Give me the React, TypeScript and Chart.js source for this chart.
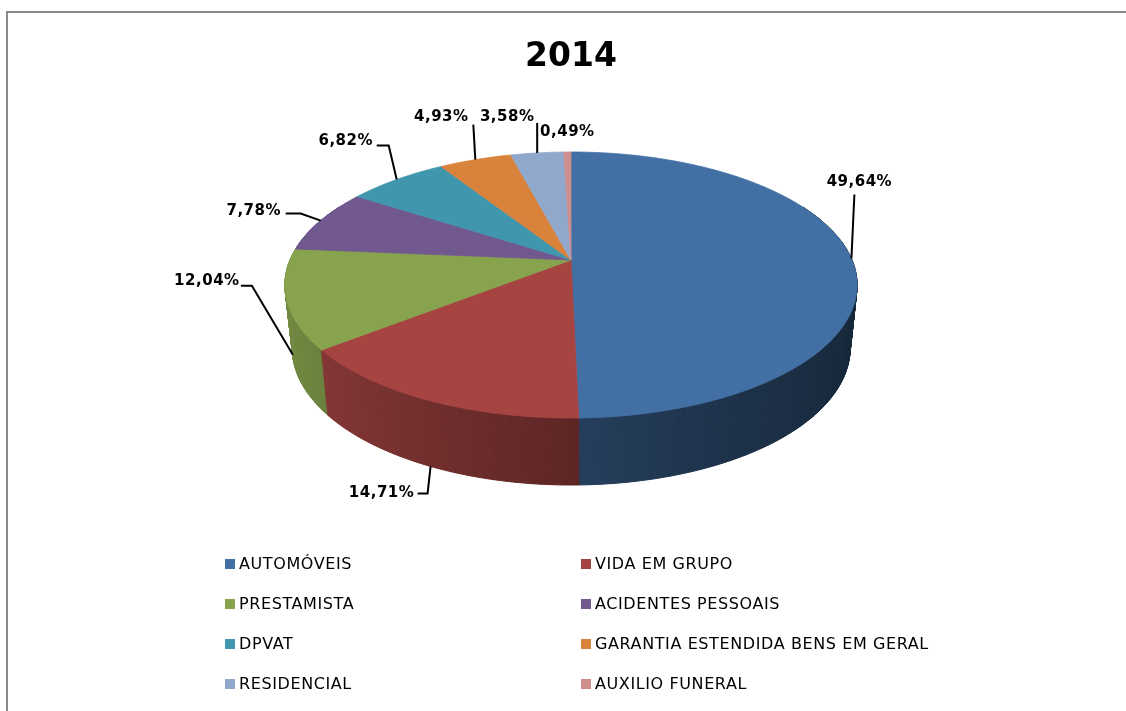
import React, { useEffect, useRef } from 'react';
import { Chart, registerables } from 'chart.js';

Chart.register(...registerables);

// ---------------- data ----------------
const TITLE = '2014';
const categories = [
  'AUTOMÓVEIS',
  'VIDA EM GRUPO',
  'PRESTAMISTA',
  'ACIDENTES PESSOAIS',
  'DPVAT',
  'GARANTIA ESTENDIDA BENS EM GERAL',
  'RESIDENCIAL',
  'AUXILIO FUNERAL',
];
const shares = [49.64, 14.71, 12.04, 7.78, 6.82, 4.93, 3.58, 0.49];

// ---------------- styles ----------------
const sliceColors = ['#4270A5', '#A64442', '#87A34E', '#71588F', '#3F96AD', '#D9823B', '#91A8CD', '#CF8F8E'];
const FONT = "'DejaVu Sans', 'Liberation Sans', sans-serif";

// perspective of the tilted pie (relative to the arc's outer radius)
const PERSP = 0.188;
const SCALE_X = 1.5406;
const SCALE_Y = 0.7034;
const DEPTH0 = 0.34;
const DEPTH1 = 0.0274;
const SHRINK = 0.025;
const VP_DX = 0.038;

// label placement: h = position along the side wall (0 top rim, 1 bottom rim),
// t = text centre offset from the anchor, p = leader line bends
const labelLayout = [
  { h: 0, t: [8, -76], p: [[3, -64]] },
  { h: 1, t: [-49, 27], p: [[-3, 27], [-13, 27]] },
  { h: 0.88, t: [-86, -74], p: [[-41, -69], [-52, -69]] },
  { h: 0, t: [-67, -9], p: [[-20, -7], [-35, -7]] },
  { h: 0, t: [-51, -38], p: [[-8, -34], [-20, -34]] },
  { h: 0, t: [-34, -43], p: [[-2, -35]] },
  { h: 0, t: [-30, -36], p: [[0, -30]] },
  { h: 0, t: [0, -20], p: [] },
];

function hexToRgb(h: string) {
  const n = parseInt(h.slice(1), 16);
  return [(n >> 16) & 255, (n >> 8) & 255, n & 255];
}
function shade(h: string, f: number) {
  const [r, g, b] = hexToRgb(h);
  return `rgb(${Math.round(r * f)},${Math.round(g * f)},${Math.round(b * f)})`;
}

function makeProj(cx: number, cy: number, R: number) {
  const B = R * SCALE_X;
  const A = R * SCALE_Y;
  const vx = cx + R * VP_DX;
  return (theta: number, h: number) => {
    const u = Math.cos(theta);
    const v = Math.sin(theta);
    const s = 1 / (1 - PERSP * v);
    let x = cx + B * u * s;
    let y = cy + A * v * s;
    if (h) {
      x = vx + (x - vx) * (1 - SHRINK * h);
      y = y + h * R * (DEPTH0 + DEPTH1 * v);
    }
    return [x, y];
  };
}

function getArcs(chart: any) {
  const meta = chart.getDatasetMeta(0);
  return meta.data as any[];
}

function drawLabels(chart: any) {
  const arcs = getArcs(chart);
  if (!arcs.length) return;
  const ctx = chart.ctx;
  const { x: cx, y: cy, outerRadius: R } = arcs[0];
  const proj = makeProj(cx, cy, R);
  ctx.save();
  ctx.font = `bold 15px ${FONT}`;
  (ctx as any).letterSpacing = '0.5px';
  ctx.textAlign = 'center';
  ctx.textBaseline = 'middle';
  ctx.fillStyle = '#000';
  ctx.strokeStyle = '#000';
  ctx.lineWidth = 2;
  arcs.forEach((arc: any, i: number) => {
    const mid = (arc.startAngle + arc.endAngle) / 2;
    const L = labelLayout[i];
    const [ax, ay] = proj(mid, L.h);
    if (L.p.length) {
      ctx.beginPath();
      ctx.moveTo(ax, ay);
      for (const [dx, dy] of L.p) ctx.lineTo(ax + dx, ay + dy);
      ctx.stroke();
    }
    const txt = shares[i].toFixed(2).replace('.', ',') + '%';
    ctx.fillText(txt, ax + L.t[0], ay + L.t[1]);
  });
  ctx.restore();
}

function drawLegend(chart: any) {
  const ctx = chart.ctx;
  ctx.save();
  ctx.font = `16px ${FONT}`;
  (ctx as any).letterSpacing = '0.6px';
  ctx.textAlign = 'left';
  ctx.textBaseline = 'middle';
  const colX = [225, 581];
  categories.forEach((name, i) => {
    const col = i % 2;
    const row = Math.floor(i / 2);
    const x = colX[col];
    const y = 564 + row * 40;
    ctx.fillStyle = sliceColors[i];
    ctx.fillRect(x, y - 5, 10, 10);
    ctx.fillStyle = '#000';
    ctx.fillText(name, x + 14, y + 1);
  });
  ctx.restore();
}

const pie3dPlugin = {
  id: 'pie3d',
  beforeDraw(chart: any) {
    const ctx = chart.ctx;
    ctx.save();
    ctx.fillStyle = '#ffffff';
    ctx.fillRect(0, 0, chart.width, chart.height);
    ctx.strokeStyle = '#8a8a8a';
    ctx.lineWidth = 2;
    ctx.beginPath();
    ctx.moveTo(chart.width, 12);
    ctx.lineTo(7, 12);
    ctx.lineTo(7, chart.height);
    ctx.stroke();
    ctx.restore();
  },
  beforeDatasetsDraw(chart: any) {
    const arcs = getArcs(chart);
    if (!arcs.length) return false;
    const ctx = chart.ctx;
    const { x: cx, y: cy, outerRadius: R } = arcs[0];
    const proj = makeProj(cx, cy, R);

    // side walls
    const quads: any[] = [];
    arcs.forEach((arc: any, i: number) => {
      const a0 = arc.startAngle;
      const a1 = arc.endAngle;
      const n = Math.max(1, Math.ceil((a1 - a0) / (Math.PI / 360)));
      for (let j = 0; j < n; j++) {
        const t0 = a0 + ((a1 - a0) * j) / n;
        const t1 = a0 + ((a1 - a0) * (j + 1)) / n;
        const tm = (t0 + t1) / 2;
        quads.push({ t0, t1, tm, v: Math.sin(tm), i });
      }
    });
    quads.sort((a, b) => a.v - b.v);
    ctx.save();
    ctx.lineWidth = 1;
    ctx.lineJoin = 'round';
    for (const q of quads) {
      if (q.v < -0.45) continue;
      const c = (1 - Math.cos(q.tm)) / 2;
      const f = 0.36 + 0.5 * Math.pow(c, 1.3);
      const col = shade(sliceColors[q.i], f);
      const p0 = proj(q.t0, 0);
      const p1 = proj(q.t1, 0);
      const p2 = proj(q.t1, 1);
      const p3 = proj(q.t0, 1);
      ctx.beginPath();
      ctx.moveTo(p0[0], p0[1]);
      ctx.lineTo(p1[0], p1[1]);
      ctx.lineTo(p2[0], p2[1]);
      ctx.lineTo(p3[0], p3[1]);
      ctx.closePath();
      ctx.fillStyle = col;
      ctx.strokeStyle = col;
      ctx.fill();
      ctx.stroke();
    }

    // top faces
    arcs.forEach((arc: any, i: number) => {
      const a0 = arc.startAngle;
      const a1 = arc.endAngle;
      const n = Math.max(2, Math.ceil((a1 - a0) / (Math.PI / 360)));
      ctx.beginPath();
      ctx.moveTo(cx, cy);
      for (let j = 0; j <= n; j++) {
        const p = proj(a0 + ((a1 - a0) * j) / n, 0);
        ctx.lineTo(p[0], p[1]);
      }
      ctx.closePath();
      ctx.fillStyle = sliceColors[i];
      ctx.strokeStyle = sliceColors[i];
      ctx.lineWidth = 0.8;
      ctx.fill();
      ctx.stroke();
    });
    ctx.restore();
    return false;
  },
  afterDraw(chart: any) {
    drawLabels(chart);
    drawLegend(chart);
  },
};

export default function App() {
  const ref = useRef<HTMLCanvasElement | null>(null);
  useEffect(() => {
    if (!ref.current) return;
    const chart = new Chart(ref.current, {
      type: 'pie',
      data: {
        labels: categories,
        datasets: [{ data: shares, backgroundColor: sliceColors, borderWidth: 0 }],
      },
      options: {
        animation: false,
        responsive: false,
        devicePixelRatio: 1,
        layout: { padding: { left: 16, right: 0, top: 0, bottom: 268.6 } },
        plugins: {
          legend: { display: false },
          tooltip: { enabled: false },
          title: {
            display: true,
            text: TITLE,
            color: '#000',
            font: { family: FONT, size: 33, weight: 'bold', lineHeight: 1.2 },
            padding: { top: 38, bottom: 0 },
          },
        },
      } as any,
      plugins: [pie3dPlugin as any],
    });
    return () => chart.destroy();
  }, []);
  return (
    <div style={{ position: 'absolute', left: 0, top: 0, width: 1126, height: 711 }}>
      <canvas ref={ref} width={1126} height={711} style={{ display: 'block' }} />
    </div>
  );
}
